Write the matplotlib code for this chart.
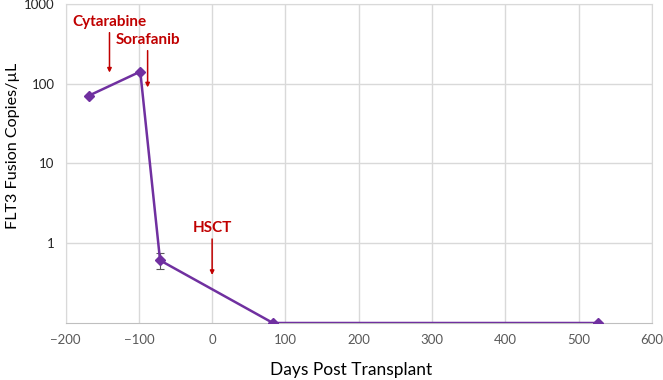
import numpy as np
import matplotlib.pyplot as plt
from matplotlib.ticker import FixedLocator, NullLocator

plt.rcParams['font.family'] = ['Lato', 'DejaVu Sans']

# data
days = [-168, -98, -71, 83, 526]
copies = [71, 142, 0.61, 0.1, 0.1]
err_lo = [0, 0, 0.14, 0, 0]
err_hi = [0, 0, 0.15, 0, 0]

events = ['Cytarabine', 'Sorafanib', 'HSCT']
event_day = [-140, -88, 0]
text_y = [600, 357, 1.55]
arrow_top = [437, 260, 1.13]
arrow_bot = [138, 90, 0.40]

x_ticks = [-200, -100, 0, 100, 200, 300, 400, 500, 600]
y_ticks = [1, 10, 100, 1000]

purple = '#7030A0'
red = '#C00000'
grid = '#D9D9D9'

fig = plt.figure(figsize=(6.63, 3.80), dpi=100)
ax = fig.add_axes([0.0988, 0.15, 0.8846, 0.8395])

ax.set_yscale('log')
ax.set_xlim(-200, 600)
ax.set_ylim(0.1, 1000)

ax.plot(days, copies, color=purple, lw=1.8, marker='D', ms=5.5, zorder=3)
ax.errorbar(days[2], copies[2], yerr=[[err_lo[2]], [err_hi[2]]], fmt='none',
            ecolor='#595959', elinewidth=0.8, capsize=3, capthick=0.8, zorder=2)

for name, xd, ty, a0, a1 in zip(events, event_day, text_y, arrow_top, arrow_bot):
    ax.text(xd, ty, name, color=red, fontsize=11, fontweight='bold',
            ha='center', va='center')
    ax.annotate('', xy=(xd, a1), xytext=(xd, a0),
                arrowprops=dict(arrowstyle='-|>', color=red, lw=1.1,
                                mutation_scale=6, shrinkA=0, shrinkB=0))

ax.xaxis.set_major_locator(FixedLocator(x_ticks))
ax.yaxis.set_major_locator(FixedLocator(y_ticks))
ax.yaxis.set_minor_locator(NullLocator())
ax.set_yticklabels([str(v) for v in y_ticks])
ax.grid(True, color=grid, lw=1)
ax.set_axisbelow(True)
ax.tick_params(length=0, labelsize=9.5, colors='#595959', pad=8)
ax.tick_params(axis='y', colors='#262626')
for s in ax.spines.values():
    s.set_color(grid)
ax.spines['bottom'].set_color('#BFBFBF')

fig.text(0.529, 0.026, 'Days Post Transplant', fontsize=12.5,
         ha='center', va='center')
fig.text(0.020, 0.615, 'FLT3 Fusion Copies/µL', fontsize=11.6,
         rotation=90, ha='center', va='center')

fig.savefig('out.png', dpi=100)
